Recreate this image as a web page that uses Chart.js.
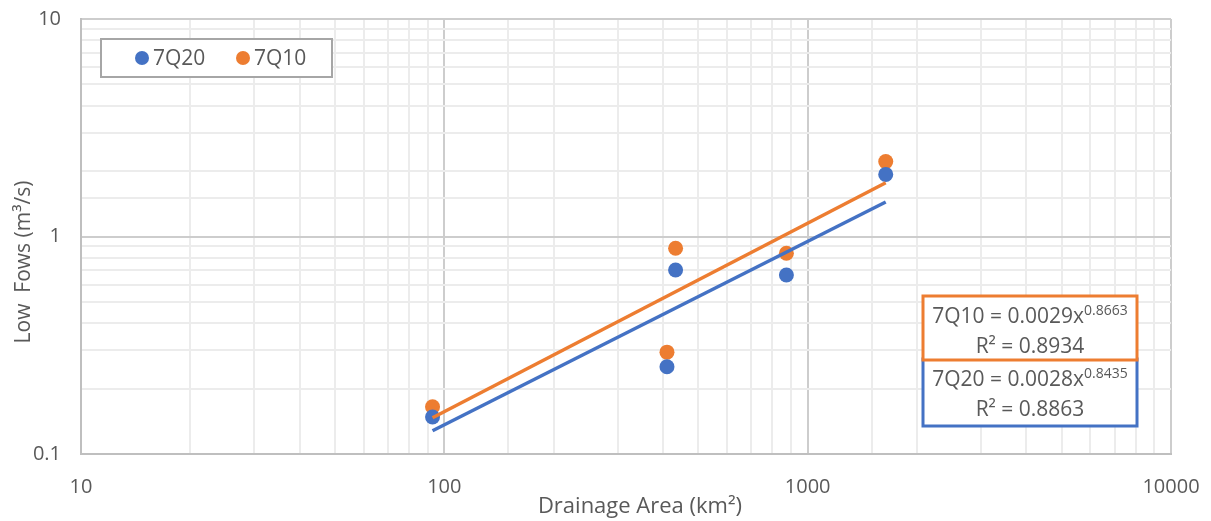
<!DOCTYPE html>
<html>
<head>
<meta charset="utf-8">
<script src="https://cdn.jsdelivr.net/npm/chart.js@4.4.1/dist/chart.umd.min.js"></script>
<style>
  html, body { margin: 0; padding: 0; background: #fff; }
  #wrap { width: 1211px; height: 521px; }
</style>
</head>
<body>
<div id="wrap"><canvas id="chart" width="1211" height="521"></canvas></div>
<script>
// Drainage area of each gauged catchment (km²)
const drainageArea = [92.8, 410, 433, 874, 1640];
// 7-day low flows (m³/s)
const flow7Q20 = [0.148, 0.252, 0.701, 0.665, 1.93];
const flow7Q10 = [0.165, 0.294, 0.883, 0.837, 2.21];

// Power-law fits Q = a · A^b
const fit7Q20 = [0.0028, 0.8435];
const fit7Q10 = [0.0029, 0.8663];
const r2Labels = ['0.8863', '0.8934'];

// Labelled axis decades
const xTickLabels = [10, 100, 1000, 10000];
const yTickLabels = [0.1, 1, 10];

const BLUE = '#4472C4';
const ORANGE = '#ED7D31';
const TEXT = '#595959';
const FAMILY = "'Open Sans', sans-serif";

const isLabelled = (list, v) => list.some(t => Math.abs(t - v) / t < 1e-9);
const isDecade = v => Math.abs(Math.log10(v) - Math.round(Math.log10(v))) < 1e-9;

const points = ys => drainageArea.map((x, i) => ({ x, y: ys[i] }));
const xMin = Math.min(...drainageArea), xMax = Math.max(...drainageArea);
const fitLine = ([a, b]) => [xMin, xMax].map(x => ({ x, y: a * Math.pow(x, b) }));

function gridColor(ctx) {
  return isDecade(ctx.tick.value) ? '#cdcdcd' : '#ececec';
}

// Fixed axis box sizes; label overhang is absorbed by the layout padding
function fixBox(size) {
  return s => {
    if (s.isHorizontal()) s.height = size; else s.width = size;
    s.paddingLeft = s.paddingRight = s.paddingTop = s.paddingBottom = 0;
  };
}

const overlay = {
  id: 'overlay',
  afterDraw(chart) {
    const { ctx, chartArea: a } = chart;
    ctx.save();

    // Axis titles
    ctx.fillStyle = TEXT;
    ctx.font = `22px ${FAMILY}`;
    ctx.textAlign = 'center';
    ctx.textBaseline = 'alphabetic';
    ctx.fillText('Drainage Area (km²)', 640, 513);

    ctx.save();
    ctx.translate(24, 262);
    ctx.rotate(-Math.PI / 2);
    ctx.textBaseline = 'middle';
    ctx.font = `21px ${FAMILY}`;
    ctx.fillText('Low  Fows (m³/s)', 0, 0);
    ctx.restore();

    // Legend
    const lx = a.left + 20, ly = a.top + 20;
    ctx.fillStyle = '#fff';
    ctx.fillRect(lx, ly, 231, 38);
    ctx.strokeStyle = '#a6a6a6';
    ctx.lineWidth = 2;
    ctx.strokeRect(lx, ly, 231, 38);
    const items = [['7Q20', BLUE, 41], ['7Q10', ORANGE, 142]];
    ctx.font = `21px ${FAMILY}`;
    ctx.textAlign = 'left';
    ctx.textBaseline = 'middle';
    for (const [label, color, off] of items) {
      ctx.fillStyle = color;
      ctx.beginPath();
      ctx.arc(lx + off, ly + 19, 7, 0, Math.PI * 2);
      ctx.fill();
      ctx.fillStyle = TEXT;
      ctx.fillText(label, lx + off + 11, ly + 20);
    }

    // Trend-line equation boxes
    const bx = 923, bw = 214;
    const boxes = [
      { name: '7Q20', fit: fit7Q20, r2: r2Labels[0], color: BLUE, top: 359, h: 67 },
      { name: '7Q10', fit: fit7Q10, r2: r2Labels[1], color: ORANGE, top: 296, h: 64 }
    ];
    for (const b of boxes) {
      ctx.fillStyle = '#fff';
      ctx.fillRect(bx, b.top, bw, b.h);
      ctx.strokeStyle = b.color;
      ctx.lineWidth = 3;
      ctx.strokeRect(bx, b.top, bw, b.h);

      const cx = bx + bw / 2;
      const main = `${b.name} = ${b.fit[0].toFixed(4)}x`;
      const sup = b.fit[1].toFixed(4);
      ctx.font = `21px ${FAMILY}`;
      const wMain = ctx.measureText(main).width;
      ctx.font = `14px ${FAMILY}`;
      const wSup = ctx.measureText(sup).width;
      const x0 = cx - (wMain + wSup) / 2;
      const base1 = b.top + 27;
      ctx.fillStyle = TEXT;
      ctx.textAlign = 'left';
      ctx.textBaseline = 'alphabetic';
      ctx.font = `21px ${FAMILY}`;
      ctx.fillText(main, x0, base1);
      ctx.font = `14px ${FAMILY}`;
      ctx.fillText(sup, x0 + wMain, base1 - 8);
      ctx.font = `21px ${FAMILY}`;
      ctx.textAlign = 'center';
      ctx.fillText(`R² = ${b.r2}`, cx, b.top + 57);
    }
    ctx.restore();
  }
};

function build() {
  new Chart(document.getElementById('chart'), {
    type: 'scatter',
    data: {
      datasets: [
        { label: '7Q20 trend', type: 'line', data: fitLine(fit7Q20), borderColor: BLUE,
          borderWidth: 3.5, pointRadius: 0, fill: false, order: 0 },
        { label: '7Q10 trend', type: 'line', data: fitLine(fit7Q10), borderColor: ORANGE,
          borderWidth: 3.5, pointRadius: 0, fill: false, order: 0 },
        { label: '7Q20', data: points(flow7Q20), backgroundColor: BLUE, borderWidth: 0,
          pointRadius: 7.5, order: 1 },
        { label: '7Q10', data: points(flow7Q10), backgroundColor: ORANGE, borderWidth: 0,
          pointRadius: 7.5, order: 2 }
      ]
    },
    options: {
      responsive: false,
      animation: false,
      devicePixelRatio: 1,
      layout: { padding: { top: 19, right: 40, left: 0, bottom: 0 } },
      plugins: { legend: { display: false }, tooltip: { enabled: false } },
      scales: {
        x: {
          type: 'logarithmic',
          min: xTickLabels[0],
          max: xTickLabels[xTickLabels.length - 1],
          afterFit: fixBox(67),
          border: { color: '#bfbfbf', width: 2 },
          grid: { color: gridColor, lineWidth: 2, drawTicks: false },
          ticks: {
            autoSkip: false, maxRotation: 0, padding: 21,
            color: TEXT, font: { family: FAMILY, size: 20 },
            callback: v => isLabelled(xTickLabels, v) ? String(v) : ''
          }
        },
        y: {
          type: 'logarithmic',
          min: yTickLabels[0],
          max: yTickLabels[yTickLabels.length - 1],
          afterFit: fixBox(81),
          border: { color: '#bfbfbf', width: 2 },
          grid: { color: gridColor, lineWidth: 2, drawTicks: false },
          ticks: {
            autoSkip: false, padding: 20,
            color: TEXT, font: { family: FAMILY, size: 20 },
            callback: v => isLabelled(yTickLabels, v) ? String(v) : ''
          }
        }
      }
    },
    plugins: [overlay]
  });
}

if (document.fonts && document.fonts.load) {
  document.fonts.load(`20px ${FAMILY}`).then(build, build);
} else {
  build();
}
</script>
</body>
</html>
